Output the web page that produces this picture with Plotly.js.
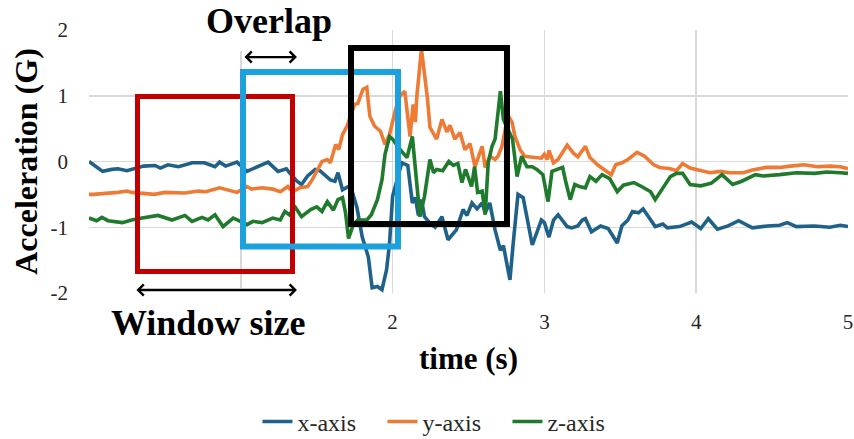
<!DOCTYPE html>
<html><head><meta charset="utf-8">
<script src="https://cdn.plot.ly/plotly-3.0.1.min.js"></script>
<style>html,body{margin:0;padding:0;background:#fff;}#chart{width:854px;height:439px;}</style>
</head><body><div id="chart"></div>
<script>
// ---- data ----
const timeX = [0,0.09,0.15,0.19,0.25,0.28,0.36,0.435,0.47,0.52,0.59,0.68,0.76,0.83,0.86,0.90,0.975,1.04,1.11,1.18,1.245,1.30,1.32,1.37,1.40,1.44,1.49,1.52,1.59,1.62,1.64,1.67,1.71,1.73,1.765,1.80,1.84,1.865,1.90,1.93,1.96,1.98,2.00,2.03,2.06,2.10,2.13,2.15,2.17,2.19,2.21,2.25,2.28,2.325,2.365,2.42,2.464,2.49,2.523,2.556,2.59,2.61,2.64,2.675,2.71,2.73,2.773,2.793,2.826,2.86,2.92,2.98,3.00,3.03,3.06,3.09,3.15,3.18,3.22,3.25,3.27,3.31,3.37,3.42,3.48,3.51,3.55,3.58,3.62,3.65,3.70,3.73,3.78,3.81,3.89,3.97,4.03,4.08,4.14,4.21,4.28,4.37,4.47,4.55,4.60,4.66,4.78,4.88,4.95,5.00];
const accX = [0,-0.15,-0.12,-0.11,-0.14,-0.12,-0.07,-0.06,-0.10,-0.05,-0.08,-0.02,-0.02,-0.08,-0.01,-0.07,-0.01,-0.15,-0.08,-0.01,-0.15,-0.11,-0.17,-0.30,-0.35,-0.22,-0.12,-0.14,-0.28,-0.30,-0.17,-0.43,-0.38,-0.43,-0.70,-1.15,-1.45,-1.92,-1.90,-1.95,-1.65,-1.24,-0.53,-0.28,-0.02,-0.06,-0.63,-0.55,-0.82,-0.58,-0.84,-0.95,-1.00,-0.84,-1.19,-1.04,-0.73,-0.82,-0.63,-0.72,-0.63,-0.78,-0.63,-1.04,-1.35,-1.28,-1.80,-1.28,-0.50,-0.55,-1.27,-0.89,-0.93,-1.15,-0.89,-0.81,-0.99,-1.01,-0.98,-0.89,-0.87,-1.07,-0.98,-1.02,-1.24,-0.98,-0.89,-0.76,-0.78,-0.72,-0.89,-0.99,-0.95,-1.01,-0.99,-0.92,-1.02,-0.87,-1.03,-0.98,-0.90,-1.01,-0.98,-0.97,-0.93,-0.99,-0.98,-1.00,-0.97,-0.99];

const timeY = [0,0.03,0.19,0.25,0.28,0.43,0.50,0.63,0.72,0.77,0.86,0.975,1.04,1.07,1.14,1.21,1.26,1.31,1.34,1.39,1.44,1.47,1.50,1.535,1.57,1.59,1.625,1.645,1.67,1.70,1.75,1.77,1.805,1.83,1.85,1.88,1.92,1.95,1.98,2.02,2.05,2.08,2.115,2.135,2.15,2.16,2.19,2.23,2.246,2.29,2.325,2.358,2.378,2.41,2.444,2.477,2.51,2.543,2.57,2.59,2.61,2.64,2.675,2.694,2.72,2.76,2.787,2.806,2.84,2.87,2.94,2.98,3.00,3.02,3.03,3.06,3.09,3.15,3.19,3.22,3.27,3.30,3.35,3.39,3.44,3.47,3.51,3.55,3.61,3.66,3.72,3.76,3.83,3.87,3.91,3.96,4.03,4.09,4.16,4.22,4.31,4.37,4.46,4.55,4.62,4.71,4.80,4.88,4.95,5.00];
const accY = [-0.50,-0.50,-0.47,-0.45,-0.47,-0.50,-0.47,-0.48,-0.45,-0.46,-0.40,-0.47,-0.38,-0.42,-0.40,-0.42,-0.46,-0.38,-0.46,-0.40,-0.38,-0.28,-0.15,0.0,0.03,-0.02,0.26,0.18,0.41,0.54,0.87,0.88,1.10,1.13,0.69,0.54,0.46,0.26,0.41,0.80,1.00,1.07,0.38,0.87,0.60,1.00,1.71,0.95,0.52,0.34,0.64,0.45,0.55,0.34,0.44,0.18,0.27,-0.08,0.10,0.23,-0.09,0.08,0.03,0.08,0.23,0.70,0.60,0.38,0.18,0.08,0.06,0.05,0.11,0.03,0.17,-0.02,0.03,0.25,0.13,0.07,0.23,0.06,-0.05,-0.12,-0.20,-0.05,-0.02,0.03,0.14,0.08,-0.05,-0.09,-0.11,-0.14,-0.03,-0.10,-0.14,-0.17,-0.15,-0.17,-0.17,-0.13,-0.09,-0.09,-0.07,-0.05,-0.08,-0.07,-0.08,-0.11];

const timeZ = [0,0.05,0.085,0.125,0.22,0.28,0.35,0.455,0.547,0.632,0.679,0.744,0.784,0.83,0.883,0.95,0.98,1.04,1.08,1.14,1.21,1.26,1.29,1.32,1.36,1.40,1.46,1.50,1.535,1.57,1.61,1.64,1.67,1.69,1.71,1.74,1.77,1.83,1.86,1.90,1.93,1.95,1.98,2.00,2.05,2.095,2.13,2.16,2.18,2.21,2.246,2.27,2.29,2.33,2.37,2.40,2.43,2.457,2.48,2.52,2.54,2.56,2.59,2.61,2.63,2.655,2.675,2.71,2.73,2.79,2.82,2.85,2.885,2.92,2.95,2.99,3.024,3.05,3.09,3.12,3.14,3.17,3.20,3.23,3.27,3.30,3.34,3.38,3.43,3.48,3.52,3.59,3.64,3.70,3.73,3.78,3.83,3.87,3.91,3.96,4.03,4.10,4.17,4.24,4.30,4.39,4.44,4.55,4.66,4.78,4.86,4.95,5.00];
const accZ = [-0.86,-0.90,-0.85,-0.90,-0.93,-0.89,-0.86,-0.82,-0.89,-0.82,-0.91,-0.85,-0.89,-0.81,-0.99,-0.86,-0.89,-0.96,-0.91,-0.93,-0.86,-0.89,-0.76,-0.81,-0.70,-0.84,-0.73,-0.69,-0.76,-0.61,-0.74,-0.58,-0.55,-0.78,-1.17,-0.97,-0.89,-0.89,-0.81,-0.58,-0.28,0.11,0.38,0.34,0.18,0.06,0.38,-0.43,-0.84,-0.53,0.03,-0.17,-0.12,-0.14,0.0,-0.06,-0.03,-0.32,-0.12,-0.38,-0.08,-0.47,-0.45,-0.81,-0.02,0.23,0.34,1.07,0.64,0.34,-0.23,0.08,-0.08,-0.08,-0.12,-0.20,-0.61,-0.15,-0.12,-0.09,-0.30,-0.58,-0.35,-0.38,-0.40,-0.23,-0.30,-0.20,-0.26,-0.46,-0.36,-0.32,-0.38,-0.46,-0.58,-0.40,-0.23,-0.18,-0.18,-0.35,-0.37,-0.33,-0.20,-0.35,-0.30,-0.20,-0.22,-0.20,-0.17,-0.18,-0.16,-0.17,-0.18];

const seriesNames = ['x-axis', 'y-axis', 'z-axis'];
const xTickVals = [0, 1, 2, 3, 4, 5];
// labels "0" and "1" are hidden under the "Window size" label in the reference
const xTickText = ['', '', '2', '3', '4', '5'];
const yTickVals = [-2, -1, 0, 1, 2];
const yTickText = ['-2', '-1', '0', '1', '2'];
const xTitle = 'time (s)';
const yTitle = 'Acceleration (G)';
const overlapLabel = 'Overlap';
const windowLabel = 'Window size';

// ---- styling ----
const SERIF = 'Liberation Serif';
const colors = ['#1F6189', '#EE7B35', '#1F7A2C'];
const GRID = '#d9d9d9';

const traces = [
  {x: timeX, y: accX},
  {x: timeY, y: accY},
  {x: timeZ, y: accZ}
].map((d, i) => ({
  x: d.x, y: d.y, name: seriesNames[i], type: 'scatter', mode: 'lines',
  line: {color: colors[i], width: 3.6}, hoverinfo: 'skip'
}));

const rect = (x0, x1, y0, y1, color, w) => ({
  type: 'rect', xref: 'paper', yref: 'paper', x0, x1, y0, y1,
  line: {color, width: w}, fillcolor: 'rgba(0,0,0,0)', layer: 'above'
});
const whiteBox = (x0, x1, y0, y1) => ({
  type: 'rect', xref: 'paper', yref: 'paper', x0, x1, y0, y1,
  line: {width: 0}, fillcolor: '#ffffff', layer: 'above'
});

const layout = {
  width: 854, height: 439,
  margin: {l: 89, r: 6, t: 30, b: 146, pad: 0, autoexpand: false},
  paper_bgcolor: '#fff', plot_bgcolor: '#fff',
  font: {family: SERIF, color: '#000'},
  showlegend: true,
  legend: {
    orientation: 'h', xref: 'paper', x: 0.469, xanchor: 'center',
    yref: 'container', y: 0.039, yanchor: 'middle',
    font: {family: SERIF, size: 24, color: '#262626'}, entrywidth: 80, entrywidthmode: 'pixels'
  },
  xaxis: {
    range: [0, 5], tickmode: 'array', tickvals: xTickVals, ticktext: xTickText,
    showgrid: true, gridcolor: GRID, gridwidth: 1.5, zeroline: false, showline: false,
    ticks: '', ticklabelstandoff: 14, tickfont: {family: SERIF, size: 21, color: '#262626'},
    title: {text: xTitle, font: {family: SERIF, size: 31, weight: 'bold', color: '#000'}, standoff: 14},
    fixedrange: true
  },
  yaxis: {
    range: [-2, 2], tickmode: 'array', tickvals: yTickVals, ticktext: yTickText,
    showgrid: true, gridcolor: GRID, gridwidth: 1.5, zeroline: false, showline: false,
    ticks: '', ticklabelstandoff: 20, tickfont: {family: SERIF, size: 21, color: '#262626'},
    title: {text: yTitle, font: {family: SERIF, size: 32, weight: 'bold', color: '#000'}, standoff: 3},
    fixedrange: true
  },
  shapes: [
    whiteBox(-0.02, 0.3386, 0.019, -0.22),
    whiteBox(0.1265, 0.3465, 0.92, 1.14),
    rect(0.0639, 0.2681, 0.0817, 0.7471, '#C00000', 5),
    rect(0.2029, 0.4071, 0.1768, 0.8403, '#1BA1DE', 6),
    rect(0.3452, 0.5507, 0.2624, 0.9316, '#000000', 6)
  ],
  annotations: [
    {xref: 'paper', yref: 'paper', x: 0.237, y: 1.034, text: overlapLabel, showarrow: false,
     xanchor: 'center', yanchor: 'middle', font: {family: SERIF, size: 36, weight: 'bold', color: '#000'}},
    {xref: 'paper', yref: 'paper', x: 0.157, y: -0.114, text: windowLabel, showarrow: false,
     xanchor: 'center', yanchor: 'middle', font: {family: SERIF, size: 36, weight: 'bold', color: '#000'}},
    {xref: 'paper', yref: 'paper', x: 0.274, y: 0.897, text: '', showarrow: true,
     ax: -54, ay: 0, arrowside: 'end+start', arrowhead: 4, startarrowhead: 4,
     arrowsize: 0.9, startarrowsize: 0.9, arrowwidth: 2.4, arrowcolor: '#000', standoff: 0, startstandoff: 0},
    {xref: 'paper', yref: 'paper', x: 0.274, y: 0.0114, text: '', showarrow: true,
     ax: -162, ay: 0, arrowside: 'end+start', arrowhead: 4, startarrowhead: 4,
     arrowsize: 0.9, startarrowsize: 0.9, arrowwidth: 2.4, arrowcolor: '#000', standoff: 0, startstandoff: 0}
  ]
};

Plotly.newPlot('chart', traces, layout, {displayModeBar: false, staticPlot: true});
</script>
</body></html>
